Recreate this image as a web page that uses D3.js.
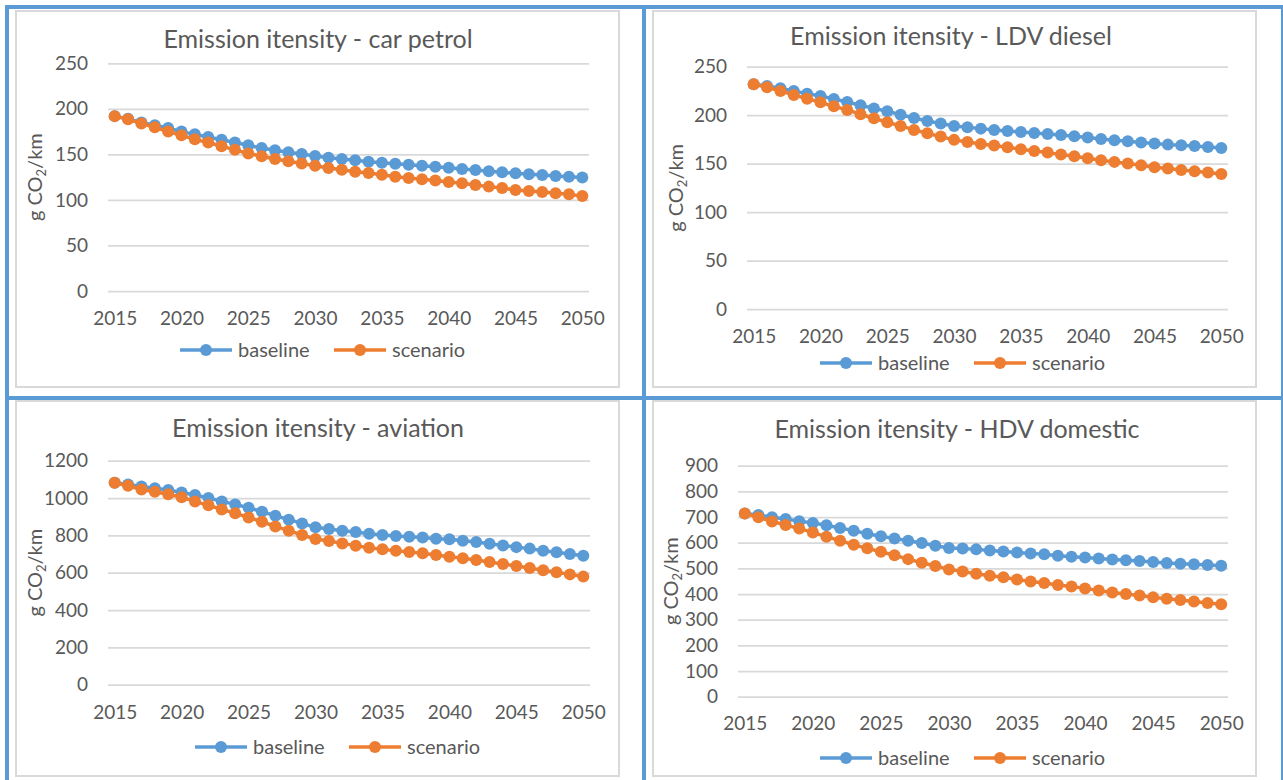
<!DOCTYPE html>
<html>
<head>
<meta charset="utf-8">
<script src="https://cdn.jsdelivr.net/npm/d3@7"></script>
<style>
  html, body { margin: 0; padding: 0; background: #ffffff; }
  svg { display: block; }
  text { font-family: Lato, "Open Sans", sans-serif; fill: #595959; }
</style>
</head>
<body>
<svg id="chart" width="1283" height="780"></svg>
<script>
// Years on the category axis
const years = [2015, 2016, 2017, 2018, 2019, 2020, 2021, 2022, 2023, 2024, 2025, 2026,
  2027, 2028, 2029, 2030, 2031, 2032, 2033, 2034, 2035, 2036, 2037, 2038,
  2039, 2040, 2041, 2042, 2043, 2044, 2045, 2046, 2047, 2048, 2049, 2050];
const yearLabels = [2015, 2020, 2025, 2030, 2035, 2040, 2045, 2050];
const seriesNames = ["baseline", "scenario"];

// Car petrol, g CO2/km
const carPetrolBaseline = [192, 189, 185, 182, 179, 175, 172, 169, 166, 163, 160, 157,
  154.5, 152.3, 150.4, 148.2, 146.4, 145, 143.5, 142, 140.9, 139.8, 138.7, 137.6,
  136.5, 135.4, 134, 132.9, 131.4, 130.3, 129.2, 128.1, 127.4, 126.3, 125.5, 124.5];
const carPetrolScenario = [192, 188.5, 184, 179.7, 175, 171, 166.5, 163, 159, 155, 151, 148,
  145, 142.4, 140, 137.6, 135, 133.2, 131, 129.6, 127.7, 125.5, 124, 122.6,
  121.2, 119.7, 118.2, 116.4, 114.6, 113.1, 110.9, 109.8, 108.7, 107.2, 106.1, 104.3];
const carPetrolTicks = [0, 50, 100, 150, 200, 250];

// LDV diesel, g CO2/km
const ldvDieselBaseline = [232, 230, 227.7, 225, 222.2, 219.8, 216.7, 213.6, 210.2, 207, 204, 200.5,
  197.1, 194, 191.3, 188.9, 187.5, 186.1, 184.8, 183.7, 182.7, 181.7, 180.6, 179.6,
  178.2, 176.9, 175.5, 174.1, 173.1, 171.7, 170.7, 169.6, 169, 168.3, 167.2, 166.2];
const ldvDieselScenario = [232, 228.7, 225, 220.8, 217, 213.3, 209.1, 205.4, 200.9, 196.8, 192.7, 188.9,
  184.8, 181.3, 177.9, 174.5, 172.4, 170.3, 168.6, 166.9, 164.8, 163.1, 161.4, 159.3,
  157.6, 155.6, 153.5, 151.8, 150.1, 148.4, 146.3, 144.9, 143.5, 142.2, 140.8, 139.4];
const ldvDieselTicks = [0, 50, 100, 150, 200, 250];

// Aviation, g CO2/km
const aviationBaseline = [1082, 1073, 1062, 1052, 1043, 1030, 1016, 1000, 982, 966, 948, 927,
  905, 884, 864, 843, 834, 825, 818, 809, 802, 796, 793, 788,
  782, 779, 771, 764, 755, 746, 737, 729, 718, 709, 700, 691];
const aviationScenario = [1082, 1066, 1046, 1034, 1020, 1004, 982, 961, 939, 918, 896, 873,
  848, 825, 802, 780, 770, 757, 745, 734, 725, 718, 711, 704,
  695, 686, 677, 668, 657, 646, 636, 625, 613, 602, 591, 579];
const aviationTicks = [0, 200, 400, 600, 800, 1000, 1200];

// HDV domestic, g CO2/km
const hdvDomesticBaseline = [714, 708, 699, 692, 684, 677, 668, 657, 647, 635, 625, 616,
  608, 599, 588, 579, 577, 574, 570, 566, 562, 558, 555, 549,
  545, 542, 538, 535, 532, 529, 525, 521, 518, 516, 513, 510];
const hdvDomesticScenario = [714, 699, 683, 669, 655, 640, 623, 608, 592, 578, 565, 551,
  536, 522, 509, 496, 488, 479, 471, 465, 457, 449, 443, 435,
  429, 422, 414, 406, 400, 394, 387, 382, 377, 371, 365, 360];
const hdvDomesticTicks = [0, 100, 200, 300, 400, 500, 600, 700, 800, 900];

const colors = { baseline: "#5B9BD5", scenario: "#ED7D31" };
const FRAME_BLUE = "#5B9BD5";
const GRID = "#D9D9D9";
const TICK_FONT = 19;

const svg = d3.select("#chart");
svg.append("rect").attr("width", 1283).attr("height", 780).attr("fill", "#ffffff");

// Panel layout: frame box, plot area, title and legend placement
const panels = [
  {
    title: "Emission itensity - car petrol",
    baseline: carPetrolBaseline, scenario: carPetrolScenario, ticks: carPetrolTicks,
    box: [16, 11, 603, 376],
    plot: { left: 108, right: 589, top: 63.3, bottom: 291 },
    titleX: 318, titleY: 48, yTitleX: 35, xLabelBaseline: 325,
    legendY: 350, legendX: [180, 334]
  },
  {
    title: "Emission itensity - LDV diesel",
    baseline: ldvDieselBaseline, scenario: ldvDieselScenario, ticks: ldvDieselTicks,
    box: [653, 11, 603, 376],
    plot: { left: 747, right: 1228, top: 66.7, bottom: 309 },
    titleX: 951, titleY: 45, yTitleX: 676, xLabelBaseline: 343,
    legendY: 363, legendX: [820, 974]
  },
  {
    title: "Emission itensity - aviation",
    baseline: aviationBaseline, scenario: aviationScenario, ticks: aviationTicks,
    box: [16, 401, 603, 375],
    plot: { left: 108, right: 590, top: 460.7, bottom: 684.7 },
    titleX: 318, titleY: 437, yTitleX: 35, xLabelBaseline: 719,
    legendY: 747, legendX: [195, 349]
  },
  {
    title: "Emission itensity - HDV domestic",
    baseline: hdvDomesticBaseline, scenario: hdvDomesticScenario, ticks: hdvDomesticTicks,
    box: [653, 401, 603, 375],
    plot: { left: 738, right: 1228, top: 465.7, bottom: 696.7 },
    titleX: 957, titleY: 438, yTitleX: 671, xLabelBaseline: 730,
    legendY: 758, legendX: [820, 974]
  }
];

function drawPanel(p) {
  const g = svg.append("g");

  // chart frame
  g.append("rect")
    .attr("x", p.box[0]).attr("y", p.box[1])
    .attr("width", p.box[2]).attr("height", p.box[3])
    .attr("fill", "#ffffff").attr("stroke", GRID).attr("stroke-width", 2);

  const x = d3.scalePoint().domain(years).range([p.plot.left, p.plot.right]).padding(0.5);
  const y = d3.scaleLinear()
    .domain([0, d3.max(p.ticks)])
    .range([p.plot.bottom, p.plot.top]);

  // value axis with gridlines
  const yAxis = g.append("g")
    .attr("transform", `translate(${p.plot.left},0)`)
    .call(d3.axisLeft(y).tickValues(p.ticks).tickFormat(d3.format("d"))
      .tickSize(-(p.plot.right - p.plot.left)).tickPadding(20));
  yAxis.select(".domain").remove();
  yAxis.selectAll(".tick line").attr("stroke", GRID).attr("stroke-width", 1.75);
  yAxis.selectAll(".tick text")
    .style("font-family", "Lato, sans-serif").style("font-size", TICK_FONT + "px")
    .attr("fill", "#595959");

  // category axis
  const xAxis = g.append("g")
    .attr("transform", `translate(0,${p.plot.bottom})`)
    .call(d3.axisBottom(x).tickValues(yearLabels).tickFormat(d3.format("d")).tickSize(0)
      .tickPadding(p.xLabelBaseline - p.plot.bottom - 0.71 * TICK_FONT));
  xAxis.select(".domain").remove();
  xAxis.selectAll(".tick text")
    .style("font-family", "Lato, sans-serif").style("font-size", TICK_FONT + "px")
    .attr("fill", "#595959");

  // title
  g.append("text")
    .attr("x", p.titleX).attr("y", p.titleY)
    .attr("text-anchor", "middle")
    .style("font-size", "25px")
    .text(p.title);

  // rotated axis title
  const yt = g.append("text")
    .attr("transform", `translate(${p.yTitleX},${(p.plot.top + p.plot.bottom) / 2}) rotate(-90)`)
    .attr("text-anchor", "middle")
    .attr("dy", "0.35em")
    .style("font-size", "20px");
  yt.append("tspan").text("g CO");
  yt.append("tspan").attr("dy", "0.3em").style("font-size", "13px").text("2");
  yt.append("tspan").attr("dy", "-0.2em").text("/km");

  // series lines and markers
  seriesNames.forEach(name => {
    const values = p[name];
    const pts = years.map((yr, i) => ({ yr, v: values[i] }));
    g.append("path")
      .datum(pts)
      .attr("fill", "none")
      .attr("stroke", colors[name])
      .attr("stroke-width", 3.5)
      .attr("stroke-linejoin", "round")
      .attr("d", d3.line().x(d => x(d.yr)).y(d => y(d.v)));
    g.append("g").selectAll("circle")
      .data(pts).join("circle")
      .attr("cx", d => x(d.yr)).attr("cy", d => y(d.v))
      .attr("r", 6)
      .attr("fill", colors[name]);
  });

  // legend
  seriesNames.forEach((name, i) => {
    const lx = p.legendX[i];
    const lg = g.append("g");
    lg.append("line")
      .attr("x1", lx).attr("x2", lx + 52)
      .attr("y1", p.legendY).attr("y2", p.legendY)
      .attr("stroke", colors[name]).attr("stroke-width", 3.5);
    lg.append("circle")
      .attr("cx", lx + 26).attr("cy", p.legendY).attr("r", 6)
      .attr("fill", colors[name]);
    lg.append("text")
      .attr("x", lx + 58).attr("y", p.legendY)
      .attr("dy", "0.35em")
      .style("font-size", "20px")
      .text(name);
  });
}

panels.forEach(drawPanel);

// outer blue frame lines
const frame = svg.append("g").attr("stroke", FRAME_BLUE).attr("stroke-width", 4);
[7, 644, 1283].forEach(fx => {
  frame.append("line").attr("x1", fx).attr("x2", fx).attr("y1", 5).attr("y2", 780);
});
[7, 398].forEach(fy => {
  frame.append("line").attr("x1", 5).attr("x2", 1285).attr("y1", fy).attr("y2", fy);
});
</script>
</body>
</html>
